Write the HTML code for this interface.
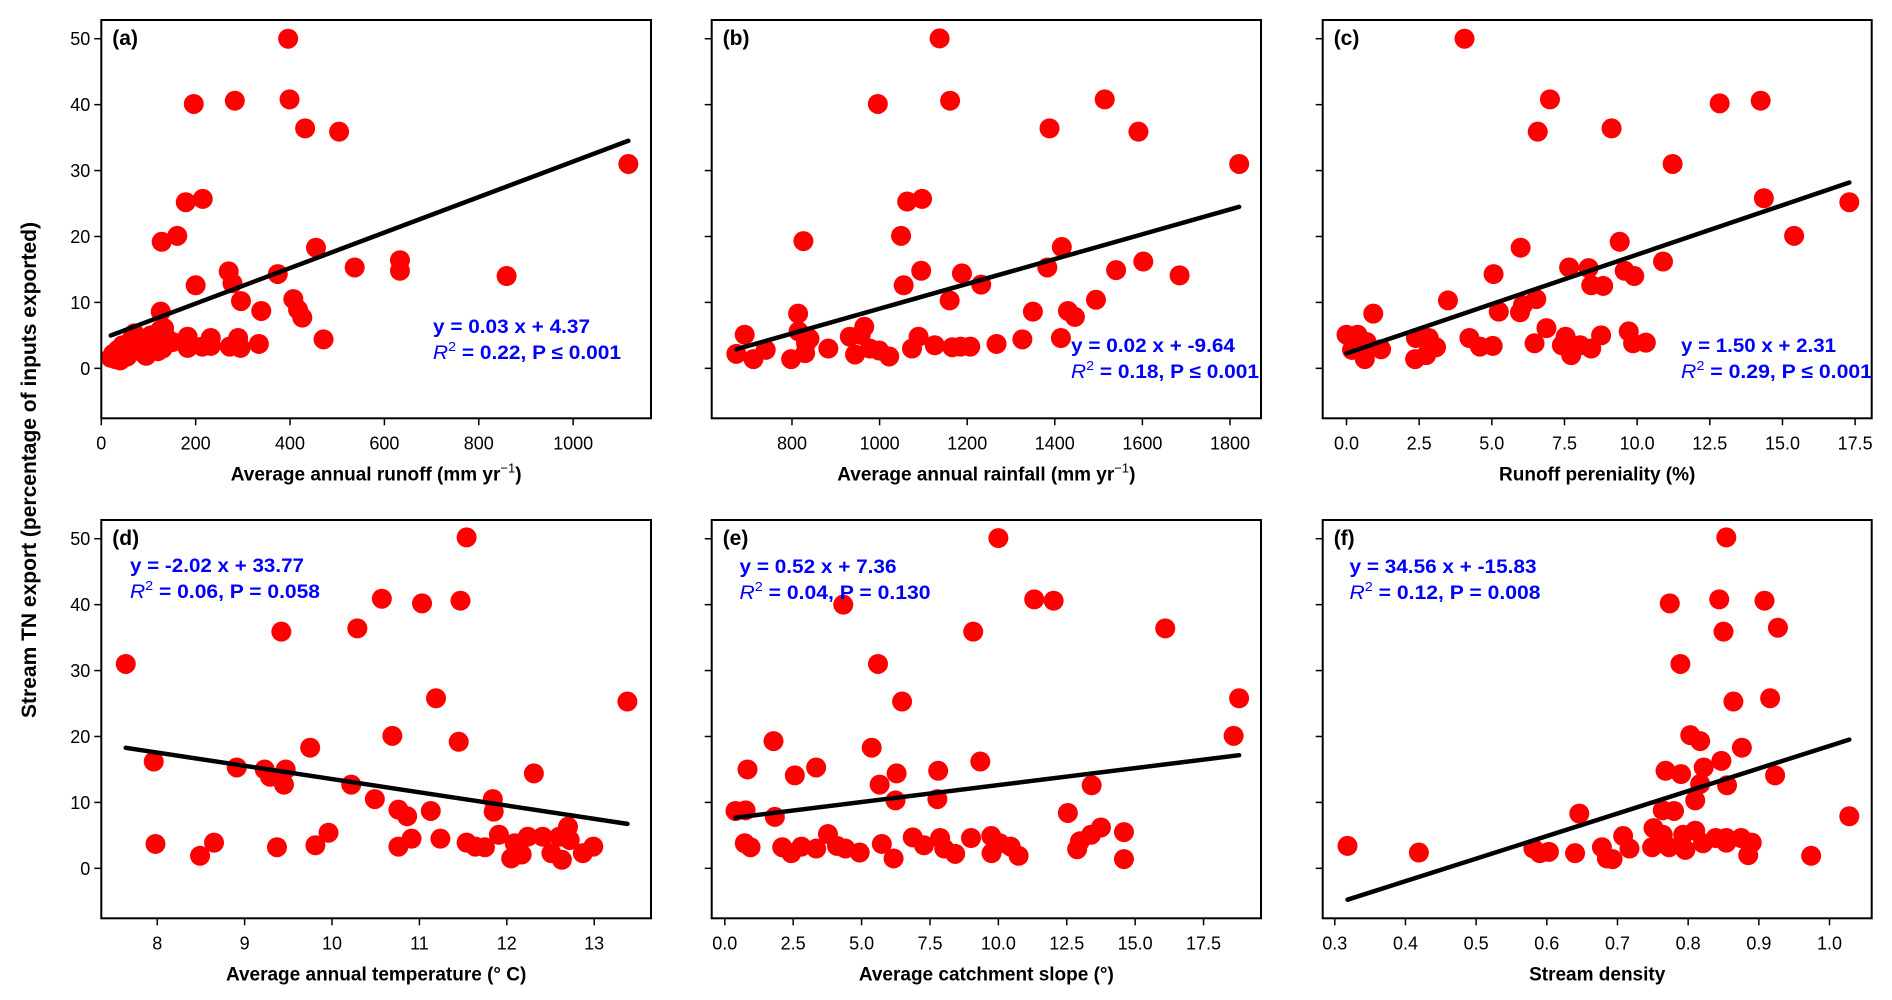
<!DOCTYPE html>
<html><head><meta charset="utf-8"><style>
html,body{margin:0;padding:0;background:#fff;}
svg{display:block;font-family:"Liberation Sans",Arial,sans-serif;}
</style></head><body>
<svg id="fig" width="1892" height="1000" viewBox="0 0 1892 1000" xmlns="http://www.w3.org/2000/svg">
<rect width="1892" height="1000" fill="#fff"/>
<text transform="translate(36,470) rotate(-90)" text-anchor="middle" font-size="21" font-weight="bold" fill="#000">Stream TN export (percentage of inputs exported)</text>
</svg>
<script>
// ---------- data ----------
const aX=[396,196,283,399,432,504,1117,179,215,128,161,455,270,278,200,374,537,633,633,859,296,407,339,417,426,471,126,133,334,183,183,232,214,232,272,290,295,151,20,25,30,35,40,45,50,55,60,65,70,75,85,90,95,100,105,115,120,125,130,140];
const aY=[50,40.1,40.6,40.8,36.4,35.9,31,25.2,25.7,19.2,20.1,18.3,14.7,12.9,12.6,14.3,15.3,16.4,14.8,14.0,10.2,10.5,8.7,8.9,7.7,4.4,8.6,6.1,3.7,4.8,3.1,4.6,3.3,3.4,3.3,4.6,3.1,4.0,1.6,2.2,1.4,2.8,1.2,3.5,2.0,1.8,2.5,4.5,5.3,3.0,2.5,4.2,1.9,3.2,5.0,3.8,2.6,5.8,3.0,4.5];
const bX=[1137,996,1161,1514,1388,1591,1821,1063,1097,1049,826,1416,1383,1602,1540,1685,1188,1095,1055,1232,1160,1494,1350,1430,1446,814,692,815,1414,1326,1267,1207,1185,1166,1126,1089,1074,1022,999,978,965,957,932,944,883,830,798,740,712,673,832,840];
const bY=[50.05,40.1,40.6,40.8,36.4,35.9,31,25.3,25.7,20.1,19.3,18.4,15.3,16.2,14.9,14.1,14.4,14.8,12.6,12.7,10.3,10.4,8.6,8.7,7.8,8.3,5.1,5.6,4.6,4.4,3.7,3.3,3.3,3.2,3.5,4.8,3.0,1.8,2.7,3.0,6.3,5.1,4.8,2.1,3.0,2.3,1.4,2.8,1.4,2.2,3.8,4.5];
const cX=[4.06,7.0,6.58,9.12,12.84,14.25,11.22,14.36,17.3,15.4,5.99,9.4,10.89,7.66,8.33,9.57,9.9,5.06,8.42,8.83,3.49,6.53,5.24,5.97,6.07,0.92,6.88,0,0.38,0.69,0.19,0.63,1.19,2.39,2.83,3.08,2.36,2.74,4.23,4.59,5.03,6.47,7.54,7.41,7.73,8.04,8.42,8.76,9.71,9.86,10.3];
const cY=[50,40.8,35.9,36.4,40.2,40.6,31,25.8,25.2,20.1,18.3,19.2,16.2,15.3,15.2,14.8,14.0,14.3,12.6,12.5,10.3,10.5,8.6,8.5,9.6,8.3,6.1,5.1,5.1,4.0,2.8,1.4,2.9,4.6,4.6,3.2,1.4,2.0,4.6,3.3,3.4,3.8,4.8,3.5,2.0,3.5,3.0,5.0,5.6,3.8,3.9];
const dX=[7.64,7.96,7.98,8.49,8.65,8.91,9.23,9.29,9.47,9.45,9.42,9.37,9.75,9.81,9.96,10.22,10.29,10.49,10.57,10.69,10.76,10.86,10.76,10.91,11.03,11.13,11.19,11.24,11.47,11.45,11.54,11.54,11.64,11.75,11.84,11.85,11.91,12.05,12.17,12.09,12.24,12.31,12.41,12.51,12.6,12.63,12.7,12.72,12.87,12.99,13.38];
const dY=[31,16.2,3.7,1.9,3.9,15.3,15.0,13.9,15.0,12.7,35.9,3.2,18.3,3.5,5.4,12.7,36.4,10.5,40.9,20.1,8.9,7.9,3.3,4.5,40.2,8.7,25.8,4.5,40.6,19.2,50.2,3.9,3.3,3.2,10.5,8.6,5.1,1.5,2.1,3.8,4.8,14.4,4.8,2.3,4.8,1.3,6.3,4.3,2.3,3.3,25.3];
const eX=[10.0,4.33,11.31,12.02,9.08,16.1,5.6,6.48,18.8,18.6,1.78,5.37,9.34,0.83,3.34,2.56,6.28,7.8,5.66,13.41,6.24,7.77,0.39,0.76,1.83,12.54,0.73,0.94,2.1,2.43,2.8,3.34,3.77,4.1,4.41,4.93,5.74,6.17,6.87,7.28,7.87,8.02,8.42,9.0,9.74,9.75,10.05,10.45,10.74,12.88,12.98,13.39,13.75,14.59,14.59];
const eY=[50.1,40.0,40.8,40.6,35.9,36.4,31,25.3,25.8,20.1,19.3,18.3,16.2,15.0,15.3,14.1,14.4,14.8,12.7,12.6,10.3,10.5,8.7,8.8,7.8,8.4,3.8,3.2,3.2,2.3,3.3,3.0,5.2,3.4,3.0,2.4,3.7,1.5,4.7,3.5,4.6,3.0,2.2,4.6,4.9,2.3,3.8,3.3,1.9,2.9,4.1,5.1,6.2,5.5,1.4];
const fX=[0.854,0.774,0.844,0.908,0.850,0.927,0.789,0.864,0.916,0.803,0.817,0.876,0.847,0.822,0.768,0.790,0.923,0.817,0.855,0.810,0.646,0.764,0.780,1.028,0.751,0.318,0.419,0.581,0.590,0.603,0.640,0.678,0.685,0.693,0.708,0.717,0.749,0.764,0.773,0.793,0.796,0.810,0.821,0.839,0.854,0.854,0.875,0.885,0.890,0.974];
const fY=[50.2,40.2,40.8,40.6,35.9,36.5,31,25.3,25.8,20.2,19.3,18.3,16.3,15.3,14.8,14.3,14.1,12.8,12.6,10.3,8.3,8.8,8.7,7.9,6.1,3.4,2.4,3.0,2.3,2.5,2.3,3.2,1.5,1.4,4.9,3.0,3.2,5.1,3.2,5.1,2.8,5.7,3.8,4.6,4.6,3.9,4.6,2.0,3.9,1.9];
const slopes=[0.02693,0.01882,1.498,-2.01,0.515,34.2];
const intercepts=[4.44,-9.77,2.27,33.64,7.48,-15.63];
const yTicks=[0,10,20,30,40,50];
const aTicks=[0,200,400,600,800,1000];
const bTicks=[800,1000,1200,1400,1600,1800];
const cTicks=[0.0,2.5,5.0,7.5,10.0,12.5,15.0,17.5];
const dTicks=[8,9,10,11,12,13];
const eTicks=[0.0,2.5,5.0,7.5,10.0,12.5,15.0,17.5];
const fTicks=[0.3,0.4,0.5,0.6,0.7,0.8,0.9,1.0];
const eq1=["y = 0.03 x + 4.37","y = 0.02 x + -9.64","y = 1.50 x + 2.31","y = -2.02 x + 33.77","y = 0.52 x + 7.36","y = 34.56 x + -15.83"];
const eq2=[" = 0.22, P ≤ 0.001"," = 0.18, P ≤ 0.001"," = 0.29, P ≤ 0.001"," = 0.06, P = 0.058"," = 0.04, P = 0.130"," = 0.12, P = 0.008"];

// ---------- layout ----------
const NS="http://www.w3.org/2000/svg";
const svg=document.getElementById('fig');
function mk(tag,attrs,parent){const e=document.createElementNS(NS,tag);for(const k in attrs)e.setAttribute(k,attrs[k]);(parent||svg).appendChild(e);return e;}
const panels=[
 {id:'a',x0:101.3,x1:651,top:20,xlim:[0,1165],X:aX,Y:aY,ticks:aTicks,fmt:v=>String(v),title:'Average annual runoff (mm yr',sup:true,eqx:433,eqy:333,w1:157,w2:188},
 {id:'b',x0:711.7,x1:1261,top:20,xlim:[616.7,1870.8],X:bX,Y:bY,ticks:bTicks,fmt:v=>String(v),title:'Average annual rainfall (mm yr',sup:true,eqx:1071,eqy:352,w1:164,w2:188},
 {id:'c',x0:1322.7,x1:1871.7,top:20,xlim:[-0.819,18.07],X:cX,Y:cY,ticks:cTicks,fmt:v=>v.toFixed(1),title:'Runoff pereniality (%)',sup:false,eqx:1681,eqy:352,w1:155,w2:191},
 {id:'d',x0:101.3,x1:651,top:520,xlim:[7.36,13.65],X:dX,Y:dY,ticks:dTicks,fmt:v=>String(v),title:'Average annual temperature (° C)',sup:false,eqx:130,eqy:572,w1:174,w2:190},
 {id:'e',x0:711.7,x1:1261,top:520,xlim:[-0.479,19.6],X:eX,Y:eY,ticks:eTicks,fmt:v=>v.toFixed(1),title:'Average catchment slope (°)',sup:false,eqx:739.5,eqy:573,w1:157,w2:191},
 {id:'f',x0:1322.7,x1:1871.7,top:520,xlim:[0.2829,1.0597],X:fX,Y:fY,ticks:fTicks,fmt:v=>v.toFixed(1),title:'Stream density',sup:false,eqx:1349.5,eqy:573,w1:187,w2:191}
];
const ylim=[-7.58,52.84], H=398.3;
panels.forEach((p,i)=>{
  const g=mk('g',{});
  
  
  const sx=v=>p.x0+(v-p.xlim[0])/(p.xlim[1]-p.xlim[0])*(p.x1-p.x0);
  const sy=v=>p.top+(ylim[1]-v)/(ylim[1]-ylim[0])*H;
  const bot=p.top+H;
  // y ticks
  yTicks.forEach(t=>{
    const y=sy(t);
    const tk=mk('line',{x1:p.x0-7,x2:p.x0,y1:y,y2:y,stroke:'#000','stroke-width':1.5},g);
    
    
    if(i===0||i===3){
      const tl=mk('text',{x:p.x0-11,y:y+6.5,'text-anchor':'end','font-size':18,fill:'#000'},g);
      
      
      tl.textContent=String(t);
    }
  });
  // x ticks
  p.ticks.forEach(t=>{
    const x=sx(t);
    const tk=mk('line',{x1:x,x2:x,y1:bot,y2:bot+7,stroke:'#000','stroke-width':1.5},g);
    
    
    const tl=mk('text',{x:x,y:bot+31,'text-anchor':'middle','font-size':18,fill:'#000'},g);
    
    
    tl.textContent=p.fmt(t);
  });
  // points
  p.X.forEach((xv,k)=>{
    const c=mk('circle',{cx:sx(xv),cy:sy(p.Y[k]),r:10,fill:'#ff0000'},g);
    
    
  });
  // regression line
  const xmin=Math.min(...p.X), xmax=Math.max(...p.X);
  const ln=mk('line',{x1:sx(xmin),y1:sy(slopes[i]*xmin+intercepts[i]),x2:sx(xmax),y2:sy(slopes[i]*xmax+intercepts[i]),stroke:'#000','stroke-width':4.5,'stroke-linecap':'round'},g);
  
  
  // frame
  const fr=mk('rect',{x:p.x0,y:p.top,width:p.x1-p.x0,height:H,fill:'none',stroke:'#000','stroke-width':2},g);
  
  
  // panel label
  const pl=mk('text',{x:p.x0+11,y:p.top+25,'font-size':21,'font-weight':'bold',fill:'#000'},g);
  
  
  pl.textContent='('+p.id+')';
  // equation
  const t1=mk('text',{x:p.eqx,y:p.eqy,'font-size':19,'font-weight':'bold',fill:'#0000ff',textLength:p.w1,lengthAdjust:'spacingAndGlyphs'},g);
  
  
  t1.textContent=eq1[i];
  const t2=mk('text',{x:p.eqx,y:p.eqy+26,'font-size':19,'font-weight':'bold',fill:'#0000ff',textLength:p.w2,lengthAdjust:'spacingAndGlyphs'},g);
  
  
  const r=mk('tspan',{'font-style':'italic','font-weight':'normal'},t2); r.textContent='R';
  const s2=mk('tspan',{'font-size':13,'font-weight':'normal',dy:-8},t2); s2.textContent='2';
  const rest=mk('tspan',{dy:8},t2); rest.textContent=eq2[i];
  // x title
  const xt=mk('text',{x:(p.x0+p.x1)/2,y:bot+62,'text-anchor':'middle','font-size':19,'font-weight':'bold',fill:'#000'},g);
  
  
  xt.textContent=p.title;
  if(p.sup){
    const s=mk('tspan',{'font-size':13,'font-weight':'normal',dy:-8},xt); s.textContent='−1';
    const c2=mk('tspan',{dy:8},xt); c2.textContent=')';
  }
});
</script>
</body></html>
